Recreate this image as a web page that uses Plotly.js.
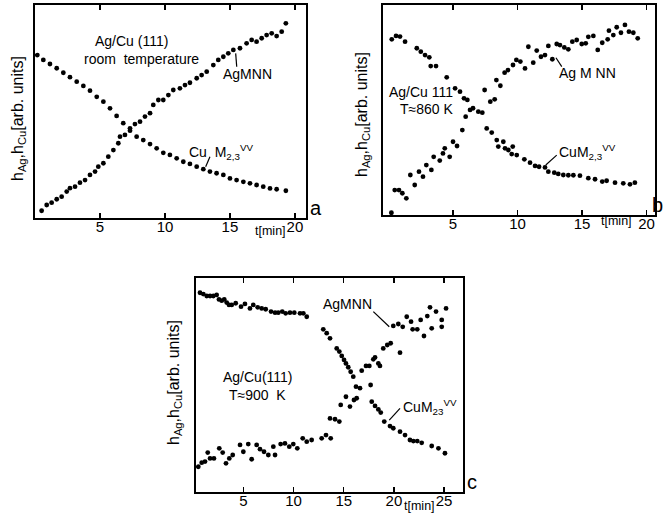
<!DOCTYPE html>
<html><head><meta charset="utf-8">
<script src="https://cdn.plot.ly/plotly-3.0.1.min.js"></script>
<style>html,body{margin:0;padding:0;background:#fff}</style>
</head><body><div id="chart" style="width:667px;height:519px"></div>
<script>
// ---- Panel a: Ag/Cu(111), room temperature ----
const aCuT=[0.18,0.64,1.15,1.67,2.18,2.69,3.21,3.72,4.23,4.75,5.26,5.77,6.28,6.79,7.31,7.82,8.33,8.85,9.36,9.87,10.38,10.9,11.41,11.92,12.44,12.95,13.46,13.97,14.49,15,15.51,16.03,16.54,17.05,17.56,18.08,18.59,19.3];
const aCuV=[76.5,74.2,72.3,70.3,68.2,66.1,64,62,59.8,56.9,54.6,51.5,47.9,44.5,41,38.2,36.6,34.7,32.7,30.6,29.6,28,26.4,25.4,24.1,22.9,21.8,21,20.2,18.6,17.8,17,16.3,15.5,14.7,13.9,13.5,12.8];
const aAgT=[0.51,0.9,1.28,1.67,2.05,2.44,2.69,3.08,3.46,3.85,4.23,4.62,4.87,5.26,5.64,6.03,6.41,6.54,6.92,7.31,7.69,8.08,8.46,8.85,9.1,9.49,9.87,10.26,10.64,11.15,11.54,11.92,12.44,12.82,13.21,13.72,14.1,14.49,14.87,15.26,15.77,16.28,16.67,17.05,17.44,17.82,18.21,18.59,18.98,19.3];
const aAgV=[3.4,6.1,7.2,8.8,10,12.4,14,14.7,16.6,17.8,20.2,21.8,24.1,25.7,28.8,31.9,35.1,38.2,39,42.1,44.1,45.2,47.6,49.2,53.1,55.4,55.4,57.7,60.1,60.9,62.4,63.5,65.6,67.1,68.7,71.8,74.2,75.7,77.3,78.9,79.7,82,83.6,82.8,84.4,85.9,86.7,85.4,87.5,91.4];

// ---- Panel b: Ag/Cu 111, T ~ 860 K ----
const bCuT=[0.25,0.58,0.89,1.28,2.19,2.5,2.83,3.16,3.27,3.68,4.51,5.16,5.54,5.85,6.11,6.32,6.96,7.61,8.0,8.39,8.51,8.9,9.03,9.29,9.55,9.63,9.94,10.53,10.97,11.36,11.67,12.13,12.39,12.85,13.16,13.55,13.94,14.33,14.84,15.49,16.01,16.57,16.91,17.56,18.2,18.72,19.1];
const bCuV=[83.8,85.4,85.1,82.7,79.6,78,76.4,75.3,71.2,71.2,65.9,60.7,59.1,56,55.2,50.5,49.7,41.8,39.8,36.3,33.2,35.5,32.4,31.6,29.7,33.2,29.2,27.2,25.6,24.1,23.7,23.4,21.4,20.9,20.3,19.8,19.7,19.7,19.5,18.3,17.8,16.7,17.1,16.2,15.9,15.4,16.2];
const bAgT=[0.22,0.48,0.81,1.07,1.38,1.69,2.03,2.36,2.67,2.93,3.32,3.5,3.97,4.22,4.36,4.74,5.0,5.31,5.72,5.98,6.55,7.27,7.45,7.89,8.23,8.36,8.67,9.0,9.26,9.65,9.91,10.22,10.58,10.84,11.22,11.49,11.82,12.13,12.39,12.7,13.04,13.29,13.63,13.94,14.25,14.59,14.98,15.29,15.49,15.88,16.22,16.57,16.99,17.09,17.43,17.69,18.02,18.33,18.64,18.98,19.32];
const bAgV=[2.0,12.7,12.7,11.2,8.8,19.8,15.1,21.4,19,24.5,22.2,28.4,26.6,30,32.4,28.4,35.5,33.5,41,47.3,51.3,49.2,59.9,54.4,55.5,64.6,61.9,68.1,69.3,71.7,74.1,73.3,70.1,80.3,72.8,78.5,75.6,76.4,80.7,74.4,81.6,81.1,80,79.1,82.7,83.5,81.6,81.9,85,85.4,78.8,82.2,83.8,87.9,85.8,89.5,86.9,90.6,87.4,86.9,84.3];

// ---- Panel c: Ag/Cu(111), T ~ 900 K ----
const cCuT=[0.67,1.0,1.34,1.67,2.0,2.33,2.56,2.83,3.09,3.33,3.56,3.83,4.23,4.76,5.15,5.65,5.98,6.42,6.82,7.22,7.75,8.15,8.47,8.87,9.21,9.64,10.07,10.64,10.97,11.31,12.96,13.3,13.63,14.3,14.56,14.8,15.03,15.22,15.45,15.69,15.95,16.22,17.68,17.79,18.12,18.45,18.69,19.04,19.61,19.94,20.61,21.11,21.6,21.94,22.33,22.77,23.77,24.44,25.09];
const cCuV=[93.1,92.5,91.6,91.6,91.6,92.1,90,89.4,90,88.5,87.4,87.4,88.2,86.6,87.9,85.8,87.4,86.3,85.8,85.4,84.3,83.8,83.8,84.3,83.5,83.8,83.8,83.5,83.5,81.9,76,74.2,71.8,67.1,65.6,63.6,61.7,60.1,58.3,56.2,53.9,49.2,50,42.2,40.2,38.6,37.1,32.9,30.8,29.8,28.2,26.6,24.3,23.8,23.8,23,21.5,20.4,18.1];
const cAgT=[0.5,0.84,1.17,1.44,1.67,2.06,2.59,2.93,3.26,3.59,3.93,4.66,4.99,5.48,5.82,6.32,6.65,7.05,7.48,7.98,8.15,8.71,9.14,9.57,9.97,10.37,10.91,11.31,11.8,12.8,13.23,13.7,13.63,14.13,14.56,14.7,15.22,15.62,16.02,16.29,16.62,16.79,17.22,17.55,17.95,18.12,18.45,18.61,18.94,19.34,19.68,20.61,19.94,20.44,20.88,21.28,21.71,21.87,22.33,22.67,23.0,23.33,23.6,23.77,24.2,24.77,24.77,25.2];
const cAgV=[11.8,13.7,14.2,18.4,15.7,15.7,20.4,18.4,13.4,15.7,17.3,22,18.8,22.4,15.3,22,20,18.8,17.3,21.2,17.3,22.4,22.7,21.2,22.4,20.4,25.1,23.5,24.3,25.1,26.6,25.1,34.4,34,32.9,40.7,44.5,39.9,43,43.8,48.5,56.7,58.9,58.9,62,62.9,60.1,58.9,67.1,68.7,69.5,65.1,77.6,78.5,77.2,81.9,79.6,76,76,80.4,72.9,82.2,86.3,76.5,84.3,80.4,77.2,85.8];

const ticksAB=[5,10,15,20];
const ticksC=[5,10,15,20,25];

const W=667,H=519;
const px=p=>p/W, py=p=>1-p/H;
const FONT="Liberation Sans, Arial, sans-serif";

const mk={color:'#000',size:4.8};
function tr(x,y,xa,ya){return {x:x,y:y,xaxis:xa,yaxis:ya,type:'scatter',mode:'markers',marker:mk,hoverinfo:'skip',showlegend:false};}
const data=[tr(aCuT,aCuV,'x','y'),tr(aAgT,aAgV,'x','y'),
            tr(bCuT,bCuV,'x2','y2'),tr(bAgT,bAgV,'x2','y2'),
            tr(cCuT,cCuV,'x3','y3'),tr(cAgT,cAgV,'x3','y3')];

function xax(dom,range,tv){return {domain:dom,range:range,tickvals:tv,ticktext:tv.map(String),showline:true,linewidth:2,linecolor:'#000',mirror:'allticks',ticks:'inside',ticklen:5,tickwidth:1.5,tickcolor:'#000',ticklabelstandoff:-6,showgrid:false,zeroline:false,tickfont:{family:FONT,size:15,color:'#000'},fixedrange:true};}
function yax(dom,range){return {domain:dom,range:range,showline:true,linewidth:2,linecolor:'#000',mirror:true,ticks:'',showticklabels:false,showgrid:false,zeroline:false,fixedrange:true};}

function T(text,x,y,opt){return Object.assign({text:text,xref:'paper',yref:'paper',x:px(x),y:py(y),xanchor:'center',yanchor:'middle',showarrow:false,font:{family:FONT,size:14,color:'#000'}},opt||{});}
const ytitle='h<sub>Ag</sub>,h<sub>Cu</sub>[arb. units]';
const yfont={family:FONT,size:16,color:'#000'};
const big={family:FONT,size:20,color:'#000'};
const small={family:FONT,size:12.5,color:'#000'};
const annotations=[
  T(ytitle,19,119,{textangle:-90,font:yfont}),
  T('Ag/Cu (111)',131,41),
  T('room  temperature',141,59),
  T('AgMNN',247,74),
  T('Cu  M<sub>2,3</sub><sup>VV</sup>',187,152,{xanchor:'left'}),
  T('a',316,208,{font:big}),
  T('t[min]',270,231,{font:small}),

  T(ytitle,362,115,{textangle:-90,font:yfont}),
  T('Ag/Cu 111',421,92),
  T('T\u2248860 K',426,109),
  T('Ag M NN',587,73),
  T('CuM<sub>2,3</sub><sup>VV</sup>',557,152,{xanchor:'left'}),
  T('b',665,205,{xanchor:'right',font:big}),
  T('t[min]',616,221,{font:small}),

  T(ytitle,174,383,{textangle:-90,font:yfont}),
  T('Ag/Cu(111)',258,377),
  T('T\u2248900  K',257,395),
  T('AgMNN',347,304),
  T('CuM<sub>23</sub><sup>VV</sup>',401,407,{xanchor:'left'}),
  T('c',472,482,{font:big}),
  T('t[min]',419,506,{font:small})
];
function L(xr,yr,x0,y0,x1,y1){return {type:'line',xref:xr,yref:yr,x0:x0,y0:y0,x1:x1,y1:y1,line:{color:'#000',width:1.2}};}
const shapes=[
  L('x','y',15.44,77.3,15.52,71.0),
  L('x','y',13.46,28.8,13.13,24.1),
  L('x2','y2',12.98,75.1,13.43,70.9),
  L('x2','y2',12.19,24.5,13.04,29.2),
  L('x3','y3',17.95,84.3,19.54,77.2),
  L('x3','y3',19.54,33.6,20.61,39.1)
];
const layout={width:W,height:H,autosize:false,margin:{l:0,r:0,t:0,b:0},paper_bgcolor:'#fff',plot_bgcolor:'#fff',showlegend:false,
  xaxis:xax([px(35),px(306)],[0,20.85],ticksAB),
  yaxis:yax([py(218),py(5)],[0,100]),
  xaxis2:xax([px(383),px(655)],[-0.43,20.66],ticksAB),
  yaxis2:yax([py(215),py(5)],[0.94,100]),
  xaxis3:xax([px(196),px(463)],[0.27,26.89],ticksC),
  yaxis3:yax([py(492),py(278)],[0,100]),
  annotations:annotations,shapes:shapes};
layout.xaxis.anchor='y';layout.yaxis.anchor='x';
layout.xaxis2.anchor='y2';layout.yaxis2.anchor='x2';
layout.xaxis3.anchor='y3';layout.yaxis3.anchor='x3';
Plotly.newPlot('chart',data,layout,{staticPlot:true,displayModeBar:false});
</script></body></html>
